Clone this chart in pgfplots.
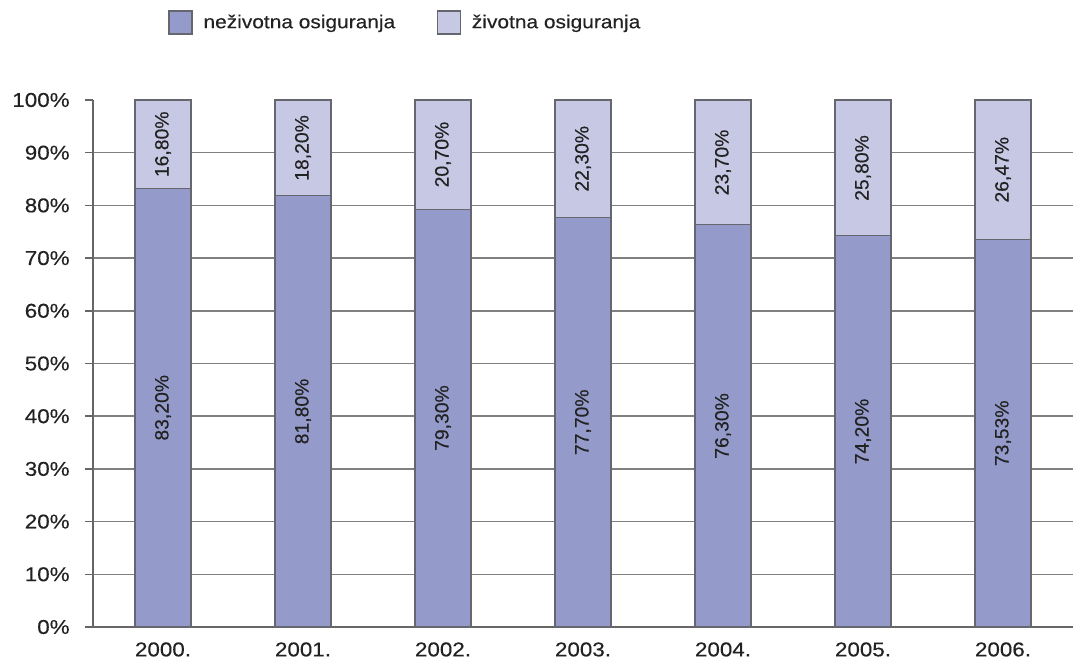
\documentclass[border=0pt]{standalone}
\usepackage{pgfplots}
\pgfplotsset{compat=1.18}
\usepackage{fontspec}
\setmainfont{Liberation Sans}[FakeStretch=1.12, FakeBold=0.3]
\newfontfamily\barfont{Liberation Sans}[FakeBold=0.3]
\definecolor{darkbar}{HTML}{949BCA}
\definecolor{lightbar}{HTML}{C6C8E4}
\definecolor{axisgray}{HTML}{666666}
\definecolor{gridgray}{HTML}{808080}
\definecolor{bardraw}{HTML}{66666E}
\definecolor{txt}{HTML}{222222}
\begin{document}
\begin{tikzpicture}
\useasboundingbox (-69.75pt,-27.75pt) rectangle (735pt,470.25pt);
\begin{axis}[
  scale only axis,
  width=735pt, height=395.25pt,
  ybar stacked,
  bar width=42pt,
  xmin=-0.5, xmax=6.5,
  ymin=0, ymax=100,
  axis x line=bottom,
  axis y line=left,
  axis line style={-, draw=axisgray, line width=1.1pt},
  xtick={0,...,6},
  xticklabels={2000.,2001.,2002.,2003.,2004.,2005.,2006.},
  xtick style={draw=none},
  x tick label style={yshift=-2pt},
  ytick={0,10,...,90},
  yticklabels={0\%,10\%,20\%,30\%,40\%,50\%,60\%,70\%,80\%,90\%},
  extra y ticks={100},
  extra y tick labels={100\%},
  extra y tick style={grid=none},
  ytick style={draw=axisgray, line width=1.1pt},
  y tick label style={xshift=-8pt},
  tick align=outside,
  major tick length=6pt,
  ymajorgrids,
  grid style={draw=gridgray, line width=1.1pt},
  tick label style={font=\fontsize{15}{17}\selectfont, text=txt},
  legend columns=2,
  legend cell align=left,
  legend style={at={(0.0765,1.171)}, anchor=north west, draw=none, fill=none,
    inner sep=0pt, font=\fontsize{14}{16}\selectfont, text=txt,
    /tikz/every odd column/.append style={column sep=6pt},
    /tikz/every even column/.append style={column sep=29pt}},
  legend image code/.code={\draw[#1, line width=1.2pt] (0pt,-8.6pt) rectangle (17.25pt,8.6pt);},
]
\addplot[fill=darkbar, draw=bardraw, line width=0.8pt] coordinates {(0,83.20) (1,81.80) (2,79.30) (3,77.70) (4,76.30) (5,74.20) (6,73.53)};
\addplot[fill=lightbar, draw=bardraw, line width=0.8pt] coordinates {(0,16.80) (1,18.20) (2,20.70) (3,22.30) (4,23.70) (5,25.80) (6,26.47)};
\legend{neživotna osiguranja, životna osiguranja}
\pgfplotsinvokeforeach{-0.5,0.5,1.5,2.5,3.5,4.5,5.5}{\draw[axisgray, line width=1.1pt] (axis cs:#1,0) -- ++(0pt,-5pt);}
\coordinate (a0) at (axis cs:0,41.60);
\coordinate (a1) at (axis cs:1,40.90);
\coordinate (a2) at (axis cs:2,39.65);
\coordinate (a3) at (axis cs:3,38.85);
\coordinate (a4) at (axis cs:4,38.15);
\coordinate (a5) at (axis cs:5,37.10);
\coordinate (a6) at (axis cs:6,36.765);
\coordinate (b0) at (axis cs:0,91.60);
\coordinate (b1) at (axis cs:1,90.90);
\coordinate (b2) at (axis cs:2,89.65);
\coordinate (b3) at (axis cs:3,88.85);
\coordinate (b4) at (axis cs:4,88.15);
\coordinate (b5) at (axis cs:5,87.10);
\coordinate (b6) at (axis cs:6,86.765);
\end{axis}
\tikzset{bl/.style={rotate=90, font=\barfont\fontsize{14.5}{16}\selectfont, text=txt}}
\node[bl] at (a0) {83,20\%};
\node[bl] at (a1) {81,80\%};
\node[bl] at (a2) {79,30\%};
\node[bl] at (a3) {77,70\%};
\node[bl] at (a4) {76,30\%};
\node[bl] at (a5) {74,20\%};
\node[bl] at (a6) {73,53\%};
\node[bl] at (b0) {16,80\%};
\node[bl] at (b1) {18,20\%};
\node[bl] at (b2) {20,70\%};
\node[bl] at (b3) {22,30\%};
\node[bl] at (b4) {23,70\%};
\node[bl] at (b5) {25,80\%};
\node[bl] at (b6) {26,47\%};
\end{tikzpicture}
\end{document}
